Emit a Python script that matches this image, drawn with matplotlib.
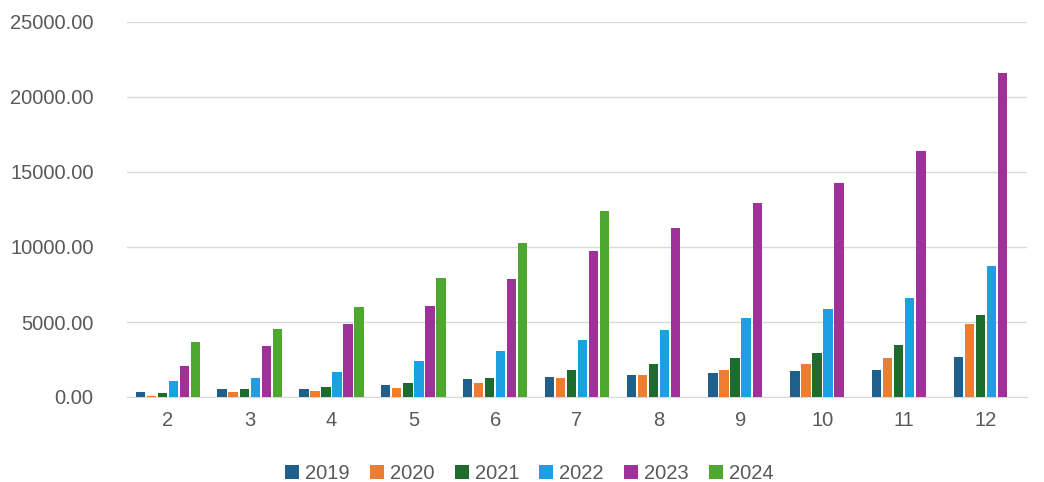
import matplotlib
matplotlib.use("Agg")
import matplotlib.pyplot as plt
import numpy as np
plt.rcParams['font.family'] = ['Liberation Sans', 'DejaVu Sans']

months = ["2", "3", "4", "5", "6", "7", "8", "9", "10", "11", "12"]
years = ["2019", "2020", "2021", "2022", "2023", "2024"]
v2019 = [350, 530, 530, 800, 1180, 1320, 1500, 1600, 1720, 1780, 2650]
v2020 = [100, 330, 430, 580, 960, 1300, 1500, 1780, 2200, 2600, 4850]
v2021 = [300, 520, 700, 950, 1300, 1780, 2200, 2600, 2950, 3450, 5500]
v2022 = [1050, 1300, 1700, 2400, 3100, 3800, 4450, 5250, 5850, 6600, 8750]
v2023 = [2050, 3400, 4850, 6100, 7850, 9750, 11300, 12900, 14250, 16400, 21600]
v2024 = [3650, 4550, 6000, 7950, 10250, 12400, 0, 0, 0, 0, 0]
series = [v2019, v2020, v2021, v2022, v2023, v2024]
colors = ["#1F5F8B", "#ED7D31", "#1E6B2E", "#1BA1E2", "#A0309A", "#4EA72E"]

fig = plt.figure(figsize=(10.44, 4.82), dpi=100)
ax = fig.add_axes([127/1044, 1-397/482, 900/1044, 375/482])
x = np.arange(len(months))
w = 0.135
for i, (s, c, y) in enumerate(zip(series, colors, years)):
    ax.bar(x + (i - 2.5) * w, s, w * 0.85, color=c, label=y, zorder=3)
ax.set_xlim(-0.5, len(months) - 0.5)
ax.set_ylim(0, 25000)
ax.set_yticks(np.arange(0, 25001, 5000))
ax.set_yticklabels([f"{t:.2f}" for t in np.arange(0, 25001, 5000)])
ax.set_xticks(x)
ax.set_xticklabels(months)
ax.grid(axis="y", color="#D9D9D9", linewidth=1, zorder=0)
for sp in ["top", "right", "left"]:
    ax.spines[sp].set_visible(False)
ax.spines["bottom"].set_color("#D9D9D9")
ax.tick_params(length=0, labelsize=14.5, colors="#595959", pad=10)
ax.tick_params(axis="y", pad=24)
ax.legend(loc="upper center", bbox_to_anchor=(0.447, -0.13), ncol=6, frameon=False,
          fontsize=14.5, handlelength=0.7, handleheight=0.7, columnspacing=1.0,
          handletextpad=0.3, labelcolor="#595959")
fig.savefig("out.png", dpi=100)
